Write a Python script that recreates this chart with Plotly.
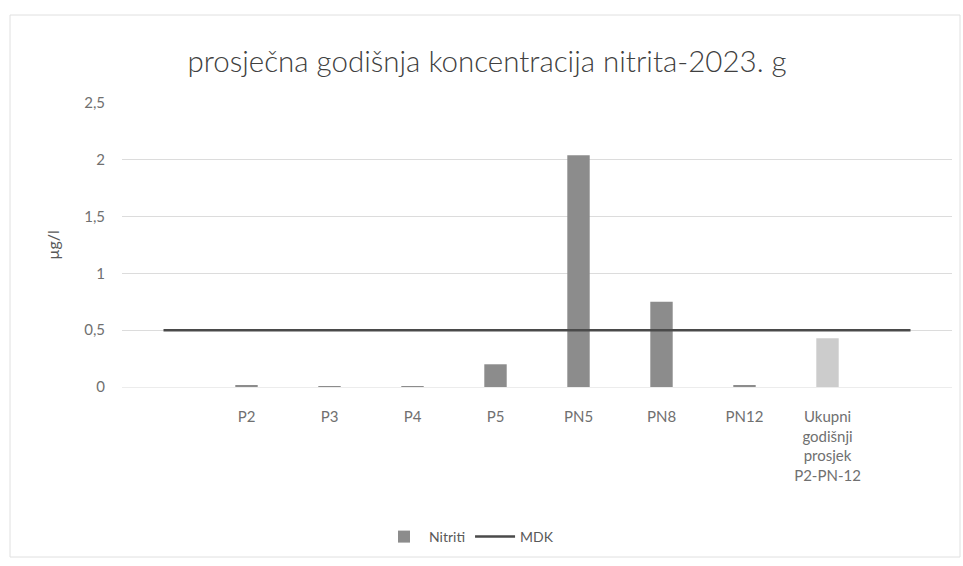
import plotly.graph_objects as go

categories = ["", "P2", "P3", "P4", "P5", "PN5", "PN8", "PN12",
              "Ukupni<br>godišnji<br>prosjek<br>P2-PN-12", ""]
nitriti = [None, 0.01, 0.005, 0.005, 0.2, 2.04, 0.75, 0.01, 0.43, None]
mdk = [0.5] * 10
bar_colors = ["#8c8c8c"] * 8 + ["#cccccc", "#8c8c8c"]
y_ticks = [0, 0.5, 1, 1.5, 2, 2.5]
y_tick_labels = ["0", "0,5", "1", "1,5", "2", "2,5"]

xs = list(range(len(categories)))
label_idx = [i for i, c in enumerate(categories) if c]

fig = go.Figure()
fig.add_trace(go.Bar(
    x=xs, y=nitriti, name="Nitriti", width=0.27,
    marker=dict(color=bar_colors, line=dict(width=0)),
))
fig.add_trace(go.Scatter(
    x=xs, y=mdk, name="MDK", mode="lines",
    line=dict(color="#4a4a4a", width=2.5),
))

fig.update_layout(
    width=963, height=566,
    paper_bgcolor="white", plot_bgcolor="white",
    font=dict(family="Lato, sans-serif", color="#595959", size=14),
    title=dict(text="prosječna godišnja koncentracija nitrita-2023. g",
               x=487 / 963, xanchor="center", y=1 - 62 / 566, yanchor="middle",
               font=dict(size=29.5, color="#404040", weight=300)),
    margin=dict(l=122, r=11, t=103, b=179, autoexpand=False),
    showlegend=True,
    legend=dict(orientation="h", x=(469 - 122) / 830, xanchor="center",
                y=1 - 537 / 566, yref="container", yanchor="middle",
                font=dict(size=14, color="#595959"), itemwidth=40,
                traceorder="normal"),
    xaxis=dict(range=[-0.5, 9.5], tickmode="array",
               tickvals=[xs[i] for i in label_idx],
               ticktext=[categories[i] for i in label_idx],
               showgrid=False, zeroline=False, showline=True, automargin=False,
               linecolor="#ececec", linewidth=1, ticks="",
               ticklabelstandoff=16,
               tickfont=dict(size=15, color="#707070")),
    yaxis=dict(range=[0, 2.5], tickmode="array", tickvals=y_ticks,
               ticktext=y_tick_labels, showgrid=True, gridcolor="#dcdcdc",
               gridwidth=1, zeroline=False, showline=False, ticks="",
               ticklabelstandoff=16, automargin=False,
               title=dict(text="µg/l", font=dict(size=16, color="#595959"), standoff=20),
               tickfont=dict(size=15, color="#707070")),
    bargap=0.7,
)

fig.add_shape(type="rect", xref="paper", yref="paper",
              x0=-112 / 830, x1=1 + 8 / 830, y0=-170 / 284, y1=1 + 88 / 284,
              line=dict(color="#e0e0e0", width=1))

fig.write_html("out.html", config={"displayModeBar": False},
               post_script="document.body.style.margin='0';")
